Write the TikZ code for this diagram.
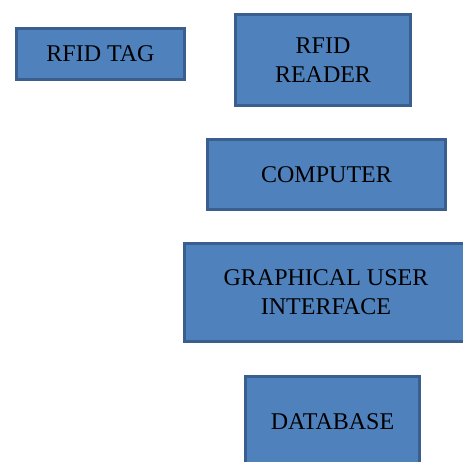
\documentclass[tikz,border=0pt]{standalone}
\usepackage{fontspec}
\setmainfont{Liberation Serif}
\definecolor{boxfill}{HTML}{4F81BD}
\definecolor{boxline}{HTML}{3A5F8E}
\tikzset{
  block/.style={draw=boxline, fill=boxfill, line width=3pt, align=center,
    inner sep=0pt, font=\fontsize{24}{29}\selectfont}
}

\begin{document}
\begin{tikzpicture}[x=1pt,y=-1pt]
        %page frame
        \useasboundingbox (0,0) rectangle (463,461);

        %the blocks
        \node[block, minimum width=168pt, minimum height=51pt] (tag) at (100.5,54) {RFID TAG};
        \node[block, minimum width=175pt, minimum height=91pt] (reader) at (323,60) {RFID\\READER};
        \node[block, minimum width=238pt, minimum height=70pt] (computer) at (326.5,174.5) {COMPUTER};
        \node[block, minimum width=284pt, minimum height=98pt] (gui) at (326,292.5) {GRAPHICAL USER\\INTERFACE};
        \node[block, minimum width=174pt, minimum height=92pt] (database) at (332.5,422) {DATABASE};
      \end{tikzpicture}
\end{document}
